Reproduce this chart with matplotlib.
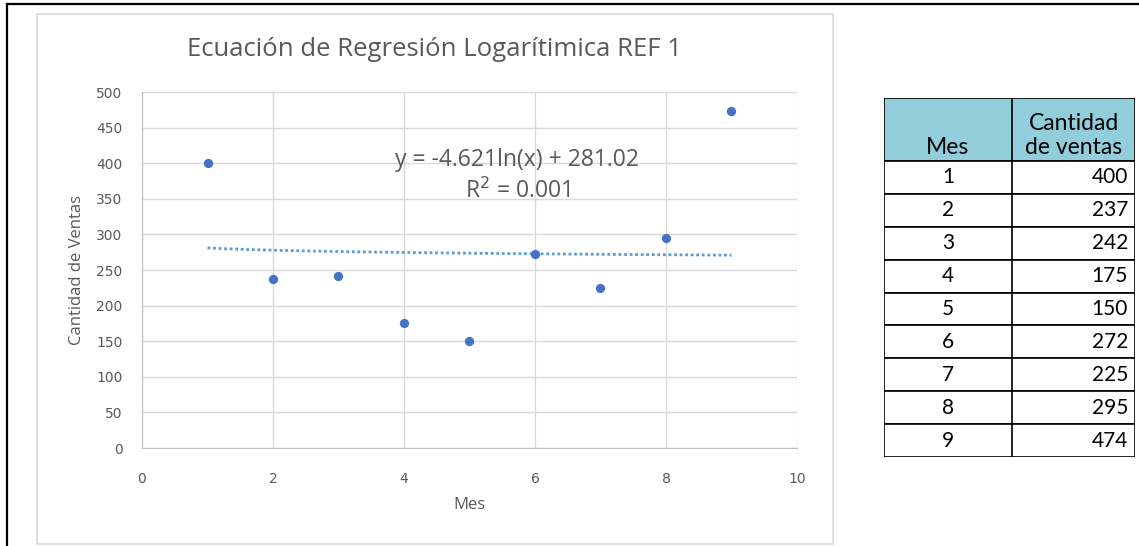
import matplotlib.pyplot as plt
import numpy as np
from matplotlib.patches import Rectangle
from matplotlib.lines import Line2D

# datos del mes y ventas
meses = [1, 2, 3, 4, 5, 6, 7, 8, 9]
ventas = [400, 237, 242, 175, 150, 272, 225, 295, 474]

titulo = 'Ecuación de Regresión Logarítimica REF 1'
x_ticks = [0, 2, 4, 6, 8, 10]
y_ticks = [0, 50, 100, 150, 200, 250, 300, 350, 400, 450, 500]

W, H = 1139, 546
gris = '#595959'
azul = '#4472C4'

plt.rcParams['font.family'] = ['Open Sans', 'DejaVu Sans']


def px(x0, y0, x1, y1):
    # caja en pixeles (arriba-izquierda) -> coordenadas de figura
    return [x0 / W, 1 - y1 / H, (x1 - x0) / W, (y1 - y0) / H]


def main():
    fig = plt.figure(figsize=(W / 100, H / 100), dpi=100)

    # marco negro de la captura (arriba e izquierda)
    fig.add_artist(Line2D([7 / W, 1], [1 - 4 / H, 1 - 4 / H], color='black', lw=1.6))
    fig.add_artist(Line2D([7 / W, 7 / W], [0, 1 - 4 / H], color='black', lw=1.6))

    # borde del area del grafico
    fig.add_artist(Rectangle((37 / W, 1 - 544 / H), (833 - 37) / W, (544 - 14) / H,
                             transform=fig.transFigure, fill=False, edgecolor='#d9d9d9', lw=1.2))

    ax = fig.add_axes(px(142, 92, 797, 448))
    ax.scatter(meses, ventas, s=32, color=azul, zorder=3)

    # linea de tendencia logaritmica
    a, b = np.polyfit(np.log(meses), ventas, 1)
    xs = np.linspace(1, 9, 200)
    ax.plot(xs, a * np.log(xs) + b, linestyle=(0, (1, 1)), color='#5B9BD5', lw=2.0, zorder=2)
    pred = a * np.log(meses) + b
    r2 = 1 - np.sum((np.array(ventas) - pred) ** 2) / np.sum((np.array(ventas) - np.mean(ventas)) ** 2)
    ax.text(0.573, 0.765, f'y = {a:.3f}ln(x) + {b:.2f}\nR$^2$ = {r2:.3f}', transform=ax.transAxes,
            ha='center', va='center', fontsize=16.5, color=gris, linespacing=1.35)

    ax.set_xlim(0, 10)
    ax.set_ylim(0, 500)
    ax.set_xticks(x_ticks)
    ax.set_yticks(y_ticks)
    ax.grid(True, color='#d9d9d9', lw=1)
    for s in ax.spines.values():
        s.set_visible(False)
    ax.spines['left'].set_visible(True)
    ax.spines['bottom'].set_visible(True)
    ax.spines['left'].set_color('#bfbfbf')
    ax.spines['bottom'].set_color('#bfbfbf')
    ax.tick_params(length=0, labelsize=10, labelcolor=gris)
    ax.tick_params(axis='x', pad=17)
    ax.tick_params(axis='y', pad=14)
    for lab in ax.get_xticklabels() + ax.get_yticklabels():
        lab.set_family('DejaVu Sans')
    ax.set_xlabel('Mes', fontsize=12, color=gris, labelpad=8)
    ax.set_ylabel('Cantidad de Ventas', fontsize=12, color=gris, labelpad=8)
    fig.text(434 / W, 1 - 49 / H, titulo, ha='center', va='center', fontsize=18.5, color=gris)

    # tabla de datos
    tx = fig.add_axes(px(884, 98, 1135, 457))
    tx.set_xlim(884, 1135)
    tx.set_ylim(457, 98)
    tx.axis('off')
    col = 1012
    top, head_bot = 98, 161
    fila = (457 - head_bot) / len(meses)
    fuente = ['Lato', 'DejaVu Sans']
    tx.add_patch(Rectangle((884, top), 1135 - 884, head_bot - top, facecolor='#92CDDC',
                           edgecolor='black', lw=1.2))
    tx.text((884 + col) / 2, head_bot - 3, 'Mes', ha='center', va='bottom', fontsize=16.5,
            family=fuente)
    tx.text((col + 1135) / 2, head_bot - 3, 'Cantidad\nde ventas', ha='center', va='bottom',
            fontsize=16.5, family=fuente, linespacing=1.15)
    for i, (m, v) in enumerate(zip(meses, ventas)):
        y0 = head_bot + i * fila
        tx.add_patch(Rectangle((884, y0), 1135 - 884, fila, facecolor='white',
                               edgecolor='black', lw=1.2))
        tx.text((884 + col) / 2, y0 + fila / 2, str(m), ha='center', va='center', fontsize=15,
                family=fuente)
        tx.text(1128, y0 + fila / 2, str(v), ha='right', va='center', fontsize=15,
                family=fuente)
    tx.plot([col, col], [top, 457], color='black', lw=1.2)

    fig.savefig('out.png', dpi=100)


if __name__ == "__main__":
    main()
